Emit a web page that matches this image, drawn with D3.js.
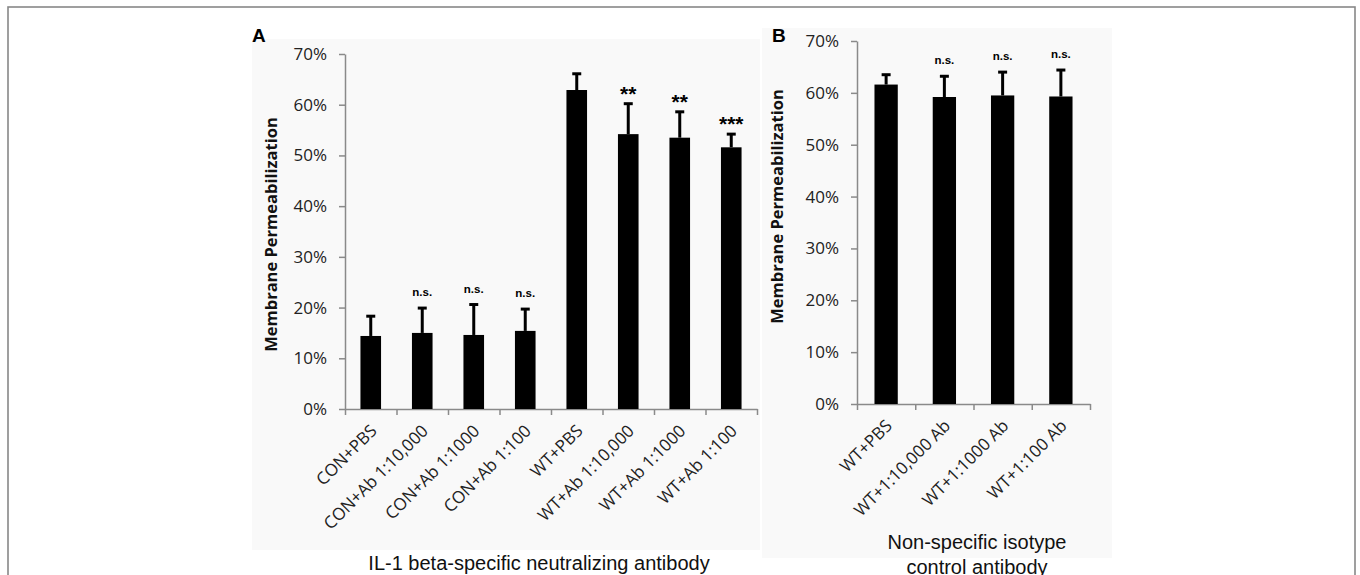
<!DOCTYPE html>
<html>
<head>
<meta charset="utf-8">
<script src="https://cdn.jsdelivr.net/npm/d3@7/dist/d3.min.js"></script>
<style>
  html, body { margin: 0; padding: 0; background: #fff; }
  svg { display: block; }
  .tick text { font-family: "Open Sans", sans-serif; }
</style>
</head>
<body>
<svg id="chart" width="1360" height="575"></svg>
<script>
// Panel A: IL-1 beta-specific neutralizing antibody
const categoriesA = ["CON+PBS", "CON+Ab 1:10,000", "CON+Ab 1:1000", "CON+Ab 1:100",
                     "WT+PBS", "WT+Ab 1:10,000", "WT+Ab 1:1000", "WT+Ab 1:100"];
const valuesA = [14.4, 15.0, 14.6, 15.4, 62.9, 54.2, 53.5, 51.6];   // % permeabilized
const errorsA = [3.9, 4.9, 6.0, 4.3, 3.2, 6.0, 5.1, 2.6];           // SD
const signifA = ["", "n.s.", "n.s.", "n.s.", "", "**", "**", "***"];

// Panel B: non-specific isotype control antibody
const categoriesB = ["WT+PBS", "WT+1:10,000 Ab", "WT+1:1000 Ab", "WT+1:100 Ab"];
const valuesB = [61.6, 59.2, 59.5, 59.3];
const errorsB = [1.9, 4.0, 4.5, 5.1];
const signifB = ["", "n.s.", "n.s.", "n.s."];

const yTicks = [0, 10, 20, 30, 40, 50, 60, 70];

const svg = d3.select("#chart");
const axisColor = "#8a8a8a";
const pct = d => d + "%";

// outer frame
svg.append("rect")
  .attr("x", 8).attr("y", 7).attr("width", 1347).attr("height", 600)
  .attr("fill", "none").attr("stroke", "#888").attr("stroke-width", 1.6);

function panel(cfg) {
  const g = svg.append("g");
  // light panel background
  g.append("rect")
    .attr("x", cfg.bg[0]).attr("y", cfg.bg[1])
    .attr("width", cfg.bg[2]).attr("height", cfg.bg[3])
    .attr("fill", "#f9f9f9");

  const y = d3.scaleLinear().domain([0, 70]).range([cfg.y0, cfg.y1]);
  const x = d3.scaleBand().domain(cfg.cats).range([cfg.x0, cfg.x1])
    .paddingInner(0.6).paddingOuter(0.3);

  // y axis
  const ya = g.append("g").attr("transform", `translate(${cfg.x0},0)`)
    .call(d3.axisLeft(y).tickValues(yTicks).tickFormat(pct).tickSize(6).tickSizeOuter(0).tickPadding(12));
  ya.select(".domain").attr("stroke", axisColor).attr("stroke-width", 1.5);
  ya.selectAll(".tick line").attr("stroke", axisColor).attr("stroke-width", 1.5);
  ya.selectAll(".tick text").attr("font-size", 17).attr("fill", "#222");

  // x axis: ticks sit on the category boundaries
  const xb = d3.scaleLinear().domain([0, cfg.cats.length]).range([cfg.x0, cfg.x1]);
  const xa = g.append("g").attr("transform", `translate(0,${cfg.y0})`)
    .call(d3.axisBottom(xb).tickValues(d3.range(cfg.cats.length + 1)).tickFormat("").tickSize(6).tickSizeOuter(0));
  xa.select(".domain").attr("stroke", axisColor).attr("stroke-width", 1.5);
  xa.selectAll(".tick line").attr("stroke", axisColor).attr("stroke-width", 1.5);

  // category labels, rotated
  g.selectAll("text.cat").data(cfg.cats).join("text")
    .attr("class", "cat")
    .attr("text-anchor", "end")
    .attr("font-family", "'Open Sans', sans-serif")
    .attr("font-size", 17)
    .attr("fill", "#222")
    .attr("transform", d => `translate(${x(d) + x.bandwidth() / 2 + 7},${cfg.y0 + 23}) rotate(-45)`)
    .text(d => d);

  // error bars (upper only)
  const data = cfg.cats.map((c, i) => ({ c, v: cfg.vals[i], e: cfg.errs[i], s: cfg.sig[i] }));
  const eb = g.append("g");
  data.forEach(d => {
    const cx = x(d.c) + x.bandwidth() / 2;
    eb.append("line").attr("x1", cx).attr("x2", cx)
      .attr("y1", y(d.v)).attr("y2", y(d.v + d.e))
      .attr("stroke", "#000").attr("stroke-width", 3);
    eb.append("line").attr("x1", cx - 4.5).attr("x2", cx + 4.5)
      .attr("y1", y(d.v + d.e)).attr("y2", y(d.v + d.e))
      .attr("stroke", "#000").attr("stroke-width", 3);
  });

  // bars
  g.selectAll("rect.bar").data(data).join("rect")
    .attr("class", "bar")
    .attr("x", d => x(d.c)).attr("width", x.bandwidth())
    .attr("y", d => y(d.v)).attr("height", d => y(0) - y(d.v))
    .attr("fill", "#000");

  // significance marks
  g.selectAll("text.sig").data(data.filter(d => d.s)).join("text")
    .attr("class", "sig")
    .attr("text-anchor", "middle")
    .attr("font-family", "'Liberation Sans', Arial, sans-serif")
    .attr("font-weight", "bold")
    .attr("font-size", d => d.s === "n.s." ? 11.5 : 21)
    .attr("x", d => x(d.c) + x.bandwidth() / 2)
    .attr("y", d => y(d.v + d.e) - (d.s === "n.s." ? 12 : 3))
    .text(d => d.s);

  // y axis title
  g.append("text")
    .attr("transform", `translate(${cfg.titleX},${(cfg.y0 + cfg.y1) / 2 + cfg.titleDy}) rotate(-90)`)
    .attr("text-anchor", "middle")
    .attr("font-family", "'Open Sans', sans-serif")
    .attr("font-weight", "bold")
    .attr("font-size", 16.5)
    .attr("fill", "#111")
    .text("Membrane Permeabilization");

  // panel letter
  g.append("text")
    .attr("x", cfg.letter[0]).attr("y", cfg.letter[1])
    .attr("font-family", "'Liberation Sans', Arial, sans-serif")
    .attr("font-weight", "bold").attr("font-size", 19)
    .text(cfg.letterText);

  // group caption
  cfg.caption.forEach((line, i) => {
    g.append("text")
      .attr("x", cfg.captionX).attr("y", cfg.captionY + i * 25)
      .attr("text-anchor", "middle")
      .attr("font-family", "'Liberation Sans', Arial, sans-serif")
      .attr("font-size", 20).attr("fill", "#111")
      .text(line);
  });
}

panel({
  cats: categoriesA, vals: valuesA, errs: errorsA, sig: signifA,
  x0: 345, x1: 757, y0: 409, y1: 54,
  bg: [252, 39, 508, 511],
  titleX: 277, titleDy: 3,
  letter: [252, 42], letterText: "A",
  caption: ["IL-1 beta-specific neutralizing antibody"], captionX: 539, captionY: 570
});

panel({
  cats: categoriesB, vals: valuesB, errs: errorsB, sig: signifB,
  x0: 857, x1: 1090, y0: 404, y1: 41,
  bg: [762, 28, 350, 530],
  titleX: 783, titleDy: -16,
  letter: [772, 42], letterText: "B",
  caption: ["Non-specific isotype", "control antibody"], captionX: 977, captionY: 549
});
</script>
</body>
</html>
